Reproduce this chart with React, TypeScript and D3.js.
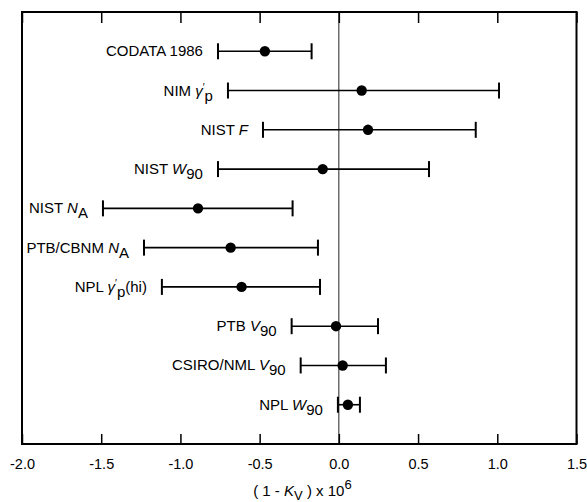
import React, { useEffect, useRef } from "react";
import * as d3 from "d3";

// Measurement names (rich text built from labelParts below)
const names = [
  "CODATA 1986",
  "NIM gp",
  "NIST F",
  "NIST W90",
  "NIST NA",
  "PTB/CBNM NA",
  "NPL gp(hi)",
  "PTB V90",
  "CSIRO/NML V90",
  "NPL W90",
];

// (1 - K_V) x 10^6, central values and error bar ends
const values = [-0.467, 0.144, 0.184, -0.102, -0.889, -0.683, -0.614, -0.018, 0.024, 0.057];
const lower = [-0.763, -0.7, -0.479, -0.763, -1.489, -1.23, -1.117, -0.298, -0.241, -0.006];
const upper = [-0.172, 1.011, 0.864, 0.569, -0.292, -0.132, -0.119, 0.247, 0.297, 0.133];

const xTicks = [-2.0, -1.5, -1.0, -0.5, 0.0, 0.5, 1.0, 1.5];

// text pieces: n = normal, i = italic, sub = subscript, gp = gamma'p
type Part = [string, string];
const labelParts: Record<string, Part[]> = {
  "CODATA 1986": [["CODATA 1986", "n"]],
  "NIM gp": [["NIM ", "n"], ["", "gp"]],
  "NIST F": [["NIST ", "n"], ["F", "i"]],
  "NIST W90": [["NIST ", "n"], ["W", "i"], ["90", "sub"]],
  "NIST NA": [["NIST ", "n"], ["N", "i"], ["A", "sub"]],
  "PTB/CBNM NA": [["PTB/CBNM ", "n"], ["N", "i"], ["A", "sub"]],
  "NPL gp(hi)": [["NPL ", "n"], ["", "gp"], ["(hi)", "n"]],
  "PTB V90": [["PTB ", "n"], ["V", "i"], ["90", "sub"]],
  "CSIRO/NML V90": [["CSIRO/NML ", "n"], ["V", "i"], ["90", "sub"]],
  "NPL W90": [["NPL ", "n"], ["W", "i"], ["90", "sub"]],
};

export default function App() {
  const ref = useRef<SVGSVGElement>(null);

  useEffect(() => {
    const W = 587,
      H = 502;
    const margin = { top: 12, right: 10.5, bottom: 58, left: 22 };
    const w = W - margin.left - margin.right,
      h = H - margin.top - margin.bottom;

    const svg = d3.select(ref.current);
    svg.selectAll("*").remove();

    const g = svg
      .append("g")
      .attr("transform", `translate(${margin.left}, ${margin.top})`)
      .style("font-family", "'Liberation Sans', Arial, sans-serif")
      .style("fill", "#000");

    const x = d3.scaleLinear().domain([-2, 1.5]).range([0, w]);
    const y = d3.scalePoint<string>().domain(names).range([0, h]).padding(1);

    // zero line
    g.append("line")
      .attr("x1", x(0))
      .attr("x2", x(0))
      .attr("y1", 0)
      .attr("y2", h)
      .attr("stroke", "#222")
      .attr("stroke-width", 1);

    // bottom axis, ticks pointing inward
    const bottom = g
      .append("g")
      .attr("transform", `translate(0, ${h})`)
      .call(
        d3
          .axisBottom(x)
          .tickValues(xTicks)
          .tickSize(-10)
          .tickPadding(15)
          .tickFormat((d) => (d as number).toFixed(1))
      );
    bottom.select(".domain").remove();
    bottom.selectAll("line").attr("stroke", "#000").attr("stroke-width", 1.5);
    bottom
      .selectAll("text")
      .style("font-family", "'Liberation Sans', Arial, sans-serif")
      .style("font-size", "14.5px")
      .attr("fill", "#000");

    // top axis, ticks only
    const top = g.append("g").call(d3.axisTop(x).tickValues(xTicks).tickSize(-11).tickFormat(() => ""));
    top.select(".domain").remove();
    top.selectAll("line").attr("stroke", "#000").attr("stroke-width", 1.5);

    // frame
    g.append("rect")
      .attr("x", 0)
      .attr("y", 0)
      .attr("width", w)
      .attr("height", h)
      .attr("fill", "none")
      .attr("stroke", "#000")
      .attr("stroke-width", 2);

    const rows = names.map((n, i) => ({ name: n, v: values[i], lo: lower[i], hi: upper[i] }));

    const row = g
      .selectAll("g.row")
      .data(rows)
      .join("g")
      .attr("class", "row")
      .attr("transform", (d) => `translate(0, ${y(d.name)})`);

    // error bars
    row
      .append("line")
      .attr("x1", (d) => x(d.lo))
      .attr("x2", (d) => x(d.hi))
      .attr("stroke", "#000")
      .attr("stroke-width", 1.6);
    row
      .append("line")
      .attr("x1", (d) => x(d.lo))
      .attr("x2", (d) => x(d.lo))
      .attr("y1", -8)
      .attr("y2", 8)
      .attr("stroke", "#000")
      .attr("stroke-width", 2);
    row
      .append("line")
      .attr("x1", (d) => x(d.hi))
      .attr("x2", (d) => x(d.hi))
      .attr("y1", -8)
      .attr("y2", 8)
      .attr("stroke", "#000")
      .attr("stroke-width", 2);

    // points
    row
      .append("circle")
      .attr("cx", (d) => x(d.v))
      .attr("cy", 0)
      .attr("r", 5.2)
      .attr("fill", "#000");

    // labels
    const label = row
      .append("text")
      .attr("x", (d) => x(d.lo) - 15)
      .attr("y", 5)
      .attr("text-anchor", "end")
      .style("font-size", "15px");

    label.each(function (d) {
      const t = d3.select(this);
      let shift = 0;
      labelParts[d.name].forEach(([s, kind]) => {
        if (kind === "n") {
          t.append("tspan").attr("dy", -shift).text(s);
          shift = 0;
        } else if (kind === "i") {
          t.append("tspan").attr("dy", -shift).style("font-style", "italic").text(s);
          shift = 0;
        } else if (kind === "sub") {
          t.append("tspan").attr("dy", 5 - shift).text(s);
          shift = 5;
        } else if (kind === "gp") {
          t.append("tspan").attr("dy", -shift).style("font-style", "italic").text("γ");
          t.append("tspan").attr("dy", -5).style("font-size", "10px").text("′");
          t.append("tspan").attr("dy", 10).text("p");
          shift = 5;
        }
      });
    });

    // axis title
    const title = g
      .append("text")
      .attr("x", x(-0.23))
      .attr("y", h + 52)
      .attr("text-anchor", "middle")
      .style("font-size", "15px");
    title.append("tspan").text("( 1 - ");
    title.append("tspan").style("font-style", "italic").text("K");
    title.append("tspan").attr("dy", 4).style("font-size", "13px").text("V");
    title.append("tspan").attr("dy", -4).text(" ) x 10");
    title.append("tspan").attr("dy", -7).style("font-size", "13px").text("6");
  }, []);

  return (
    <svg
      ref={ref}
      width={587}
      height={502}
      style={{ position: "absolute", left: 0, top: 0, background: "#fff" }}
    ></svg>
  );
}
